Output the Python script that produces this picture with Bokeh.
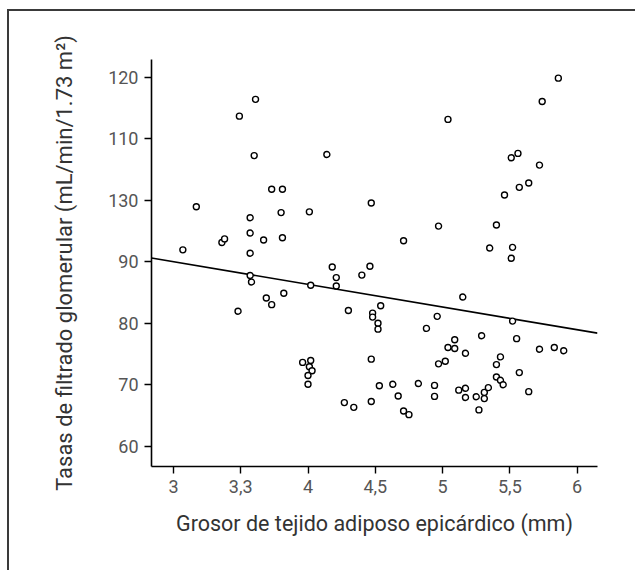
from bokeh.plotting import figure
from bokeh.models import Range1d, FixedTicker
from bokeh.embed import file_html
from bokeh.resources import INLINE

# --- data ---
eat_mm = [3.07, 3.17, 3.36, 3.38, 3.49, 3.61, 3.60, 3.57, 3.57, 3.57,
          3.57, 3.58, 3.48, 3.67, 3.69, 3.73, 3.73, 3.81, 3.80, 3.81,
          3.82, 4.01, 4.02, 4.14, 3.96, 4.02, 4.01, 4.03, 4.00, 4.00,
          4.18, 4.21, 4.21, 4.30, 4.27, 4.34, 4.40, 4.46, 4.47, 4.48,
          4.48, 4.54, 4.52, 4.52, 4.47, 4.47, 4.53, 4.63, 4.67, 4.71,
          4.75, 4.71, 4.82, 4.88, 4.94, 4.94, 4.96, 4.97, 4.97, 5.04,
          5.02, 5.04, 5.09, 5.09, 5.12, 5.15, 5.17, 5.17, 5.17, 5.25,
          5.27, 5.29, 5.31, 5.31, 5.34, 5.35, 5.40, 5.40, 5.40, 5.43,
          5.43, 5.45, 5.46, 5.51, 5.56, 5.57, 5.51, 5.52, 5.52, 5.55,
          5.57, 5.64, 5.64, 5.72, 5.72, 5.74, 5.83, 5.86, 5.90]
gfr = [91.93, 98.93, 93.12, 93.71, 113.65, 116.38, 107.24, 97.15, 94.66, 91.39,
       87.77, 86.71, 81.96, 93.53, 84.10, 83.03, 101.78, 101.78, 97.98, 93.89,
       84.87, 98.10, 86.17, 107.42, 73.65, 73.95, 72.94, 72.29, 71.51, 70.09,
       89.14, 87.42, 86.05, 82.08, 67.12, 66.35, 87.83, 89.26, 99.53, 81.66,
       81.01, 82.85, 80.00, 79.05, 74.18, 67.30, 69.85, 70.09, 68.19, 65.76,
       65.16, 93.41, 70.21, 79.17, 69.91, 68.13, 81.13, 73.41, 95.79, 113.12,
       73.83, 76.08, 77.33, 75.91, 69.14, 84.27, 69.44, 75.13, 67.95, 68.07,
       65.93, 77.98, 68.78, 67.77, 69.55, 92.23, 95.96, 73.29, 71.28, 74.54,
       70.74, 70.03, 100.83, 106.88, 107.60, 102.08, 90.56, 92.34, 80.36, 77.51,
       71.99, 102.79, 68.90, 105.70, 75.79, 116.02, 76.08, 119.82, 75.55]

fit_x = [2.837, 6.151]
fit_y = [90.6, 78.4]

x_ticks = [3, 3.5, 4, 4.5, 5, 5.5, 6]
x_tick_labels = ["3", "3,3", "4", "4,5", "5", "5,5", "6"]
y_ticks = [60, 70, 80, 90, 100, 110, 120]
y_tick_labels = ["60", "70", "80", "90", "130", "110", "120"]

x_title = "Grosor de tejido adiposo epicárdico (mm)"
y_title = "Tasas de filtrado glomerular (mL/min/1.73 m²)"

# the page border (top + left) is drawn with CSS; the canvas starts after it
p = figure(width=628, height=561, output_backend="svg", toolbar_location=None,
           x_range=Range1d(2.837, 6.151), y_range=Range1d(56.74, 122.85),
           min_border_left=142, min_border_right=40, min_border_top=48,
           min_border_bottom=106)
p.styles = {"border-top": "2px solid #3a3a3a", "border-left": "2px solid #3a3a3a",
            "margin-left": "7px", "margin-top": "9px"}
p.outline_line_color = None
p.grid.visible = False
p.background_fill_color = "white"
p.border_fill_color = "white"

p.line(fit_x, fit_y, line_color="black", line_width=1.6)
p.scatter(eat_mm, gfr, marker="circle", size=6, fill_color="white",
          line_color="black", line_width=1.4)

for ax in (p.xaxis[0], p.yaxis[0]):
    ax.axis_line_color = "black"
    ax.axis_line_width = 1.6
    ax.major_tick_line_color = "black"
    ax.major_tick_line_width = 1.4
    ax.major_tick_out = 7
    ax.major_tick_in = 0
    ax.minor_tick_line_color = None
    ax.major_label_text_font = "Roboto"
    ax.major_label_text_font_size = "18px"
    ax.major_label_text_color = "#555555"
    ax.axis_label_text_font = "Roboto"
    ax.axis_label_text_font_style = "normal"
    ax.axis_label_text_color = "#333333"

p.xaxis[0].axis_label_text_font_size = "21.5px"
p.yaxis[0].axis_label_text_font_size = "22px"
p.xaxis[0].ticker = FixedTicker(ticks=x_ticks)
p.xaxis[0].major_label_overrides = {t: l for t, l in zip(x_ticks, x_tick_labels)}
p.yaxis[0].ticker = FixedTicker(ticks=y_ticks)
p.yaxis[0].major_label_overrides = {t: l for t, l in zip(y_ticks, y_tick_labels)}
p.xaxis[0].axis_label = x_title
p.yaxis[0].axis_label = y_title
p.xaxis[0].major_label_standoff = 6
p.yaxis[0].major_label_standoff = 6
p.xaxis[0].axis_label_standoff = 15
p.yaxis[0].axis_label_standoff = 28

open("out.html", "w").write(file_html(p, INLINE))
